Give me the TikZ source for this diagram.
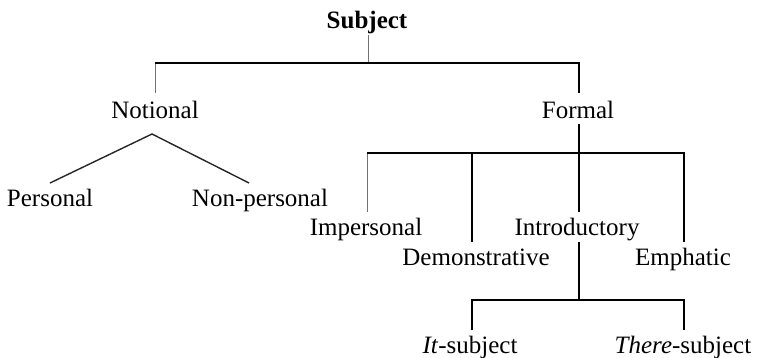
\documentclass[tikz,border=0pt]{standalone}
\usepackage{fontspec}
\setmainfont{Liberation Serif}
\usetikzlibrary{calc}
\begin{document}
\begin{tikzpicture}[x=1pt,y=-1pt,
  every node/.style={inner sep=0pt,anchor=base,font=\fontsize{25}{30}\selectfont},
  ln/.style={line width=1.5pt,black},
  thin ln/.style={line width=1pt,black!55}]
\useasboundingbox (0,0) rectangle (760,357);
\node[font=\fontsize{25}{30}\selectfont\bfseries] (subj) at (367,28) {Subject};
\node (notional) at (155,118) {Notional};
\node (formal) at (578,118) {Formal};
\node (personal) at (50,206) {Personal};
\node (nonpers) at (260,206) {Non-personal};
\node (impers) at (366,235) {Impersonal};
\node (intro) at (577,235) {Introductory};
\node (demo) at (476,265) {Demonstrative};
\node (emph) at (683,265) {Emphatic};
\node (it) at (470,353) {\textit{It}-subject};
\node (there) at (683,353) {\textit{There}-subject};
% Subject
\draw[thin ln] ($(subj|-0,35)+(1,0)$) -- ($(subj|-0,63)+(1,0)$);
\draw[thin ln] (notional|-0,63) -- (notional|-0,93);
\draw[ln] (notional|-0,63) -- ($(formal|-0,63)+(1,0)$) -- ($(formal|-0,93)+(1,0)$);
% Notional
\draw[line width=1.4pt,black!85] (personal|-0,183) -- ($(notional|-0,134)+(-3,0)$) -- ($(nonpers|-0,183)+(-11,0)$);
% Formal
\draw[ln] ($(formal|-0,124)+(1,0)$) -- ($(formal|-0,212)+(1,0)$);
\draw[thin ln] ($(impers|-0,212)+(1,0)$) -- ($(impers|-0,153)+(1,0)$);
\draw[ln] ($(impers|-0,153)+(1,0)$) -- ($(emph|-0,153)+(1,0)$) -- ($(emph|-0,242)+(1,0)$);
\draw[ln] ($(demo|-0,153)+(-4,0)$) -- ($(demo|-0,242)+(-4,0)$);
% Introductory
\draw[ln] ($(intro|-0,242)+(2,0)$) -- ($(intro|-0,300)+(2,0)$);
\draw[ln] ($(it|-0,330)+(2,0)$) |- ($(there|-0,300)+(1,0)$) -- ($(there|-0,330)+(1,0)$);
\end{tikzpicture}
\end{document}
